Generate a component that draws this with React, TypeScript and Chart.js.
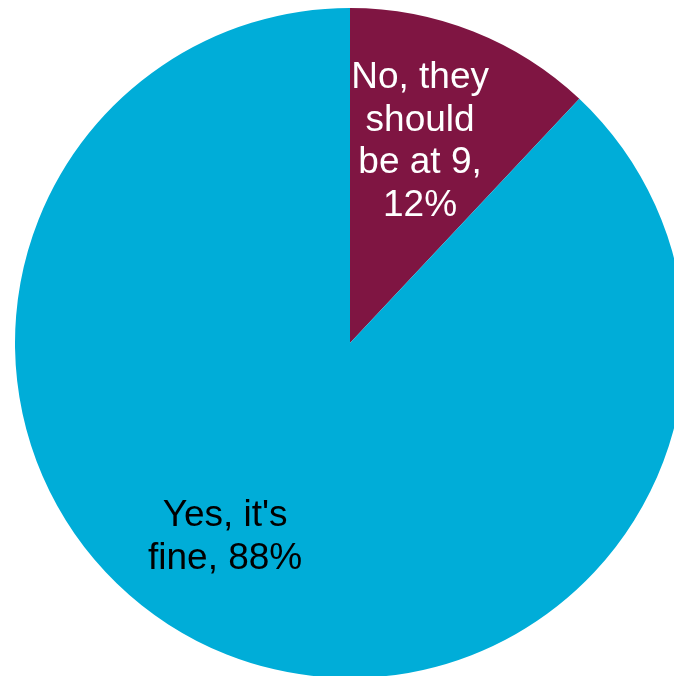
import React, { useEffect, useRef } from "react";
import { Chart, registerables } from "chart.js";

Chart.register(...registerables);

const categories = ["No, they should be at 9", "Yes, it's fine"];
const values = [12, 88];
const colors = ["#7F1542", "#00ADD8"];
const labelColors = ["#FFFFFF", "#000000"];
const labelLines = [
  ["No, they", "should", "be at 9,"],
  ["Yes, it's", "fine,"],
];

const sliceLabelPlugin = {
  id: "sliceLabels",
  afterDatasetsDraw(chart: any, _args: any, opts: any) {
    const meta = chart.getDatasetMeta(0);
    const ctx = chart.ctx;
    const total = values.reduce((a, b) => a + b, 0);
    ctx.save();
    ctx.font = `${opts.fontSize}px "Liberation Sans", Arial, sans-serif`;
    ctx.textAlign = "center";
    ctx.textBaseline = "middle";
    meta.data.forEach((arc: any, i: number) => {
      const p = arc.getProps(["x", "y", "startAngle", "endAngle", "outerRadius"], true);
      const mid = (p.startAngle + p.endAngle) / 2 + (opts.angleShift[i] * Math.PI) / 180;
      const r = p.outerRadius * opts.radiusFrac[i];
      const cx = p.x + Math.cos(mid) * r;
      const cy = p.y + Math.sin(mid) * r;
      const pct = Math.round((values[i] / total) * 100) + "%";
      const lines = [...labelLines[i]];
      if (i === 0) lines.push(pct);
      else lines[lines.length - 1] = lines[lines.length - 1] + " " + pct;
      const lh = opts.lineHeight;
      const startY = cy - ((lines.length - 1) * lh) / 2;
      ctx.fillStyle = labelColors[i];
      lines.forEach((t: string, k: number) => ctx.fillText(t, cx, startY + k * lh));
    });
    ctx.restore();
  },
};

export default function App() {
  const ref = useRef<HTMLCanvasElement | null>(null);
  useEffect(() => {
    if (!ref.current) return;
    const chart = new Chart(ref.current, {
      type: "pie",
      data: {
        labels: categories,
        datasets: [
          {
            data: values,
            backgroundColor: colors,
            borderWidth: 0,
          },
        ],
      },
      options: {
        animation: false,
        responsive: false,
        maintainAspectRatio: false,
        layout: { padding: 0 },
        plugins: {
          legend: { display: false },
          tooltip: { enabled: false },
          sliceLabels: {
            fontSize: 37,
            lineHeight: 42.5,
            radiusFrac: [0.636, 0.69],
            angleShift: [-2.4, 11.1],
          },
        } as any,
      },
      plugins: [sliceLabelPlugin],
    });
    return () => chart.destroy();
  }, []);
  return (
    <div
      style={{
        position: "fixed",
        left: 0,
        top: 0,
        width: "100vw",
        height: "100vh",
        overflow: "hidden",
        background: "#ffffff",
      }}
    >
      <canvas
        ref={ref}
        width={670}
        height={670}
        style={{ position: "absolute", left: 15, top: 8, width: 670, height: 670 }}
      />
    </div>
  );
}
